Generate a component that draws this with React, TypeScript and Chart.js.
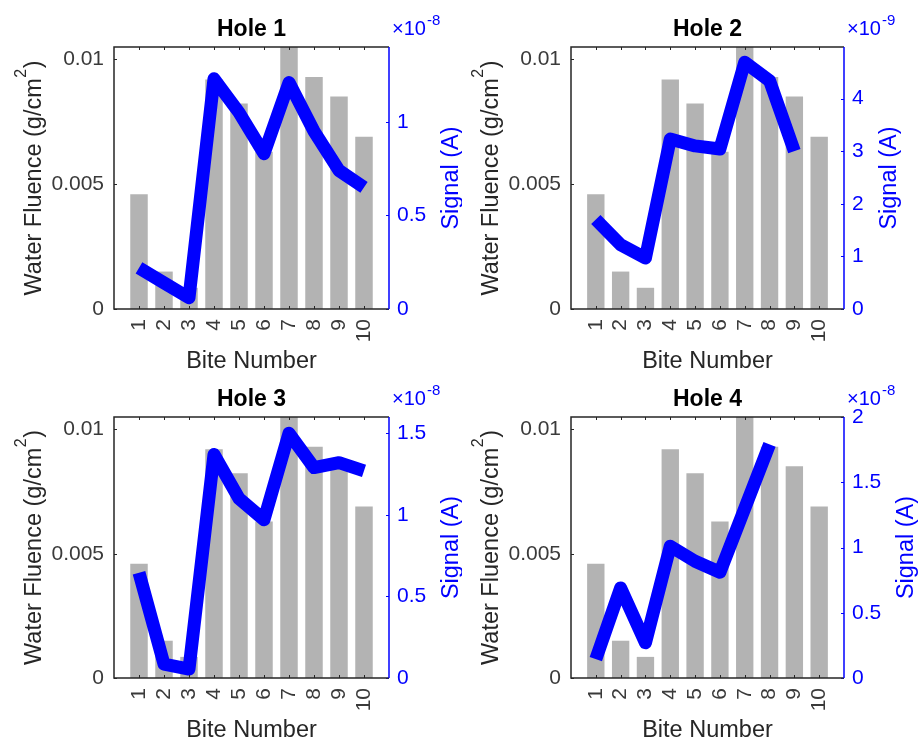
import React, { useEffect, useRef } from "react";
import { Chart, registerables } from "chart.js";

Chart.register(...registerables);

// ---------- data ----------
const biteNumbers = [1, 2, 3, 4, 5, 6, 7, 8, 9, 10];
const waterFluence = [0.0046, 0.0015, 0.00085, 0.0092, 0.00824, 0.0063, 0.011, 0.0093, 0.00852, 0.0069];
const holeTitles = ["Hole 1", "Hole 2", "Hole 3", "Hole 4"];
// signal values in units of 10^exponent A
const signalHole1 = [0.22, 0.14, 0.06, 1.23, 1.05, 0.83, 1.21, 0.95, 0.74, 0.65];
const signalHole2 = [1.7, 1.22, 0.97, 3.23, 3.1, 3.04, 4.69, 4.34, 3.0, null];
const signalHole3 = [0.645, 0.085, 0.055, 1.37, 1.1, 0.97, 1.5, 1.29, 1.32, 1.27];
const signalHole4 = [0.145, 0.69, 0.27, 1.01, 0.895, 0.81, 1.3, 1.79, null, null];
const signalExponents = [-8, -9, -8, -8];
const signalMax = [1.4, 4.98, 1.6, 2];
const signalTicks1 = [0, 0.5, 1];
const signalTicks2 = [0, 1, 2, 3, 4];
const signalTicks3 = [0, 0.5, 1, 1.5];
const signalTicks4 = [0, 0.5, 1, 1.5, 2];
const fluenceTicks = [0, 0.005, 0.01];
const fluenceMax = 0.0105;
const xRange = [0, 11];

const signals = [signalHole1, signalHole2, signalHole3, signalHole4];
const signalTicks = [signalTicks1, signalTicks2, signalTicks3, signalTicks4];

// ---------- style ----------
const FONT = "'Liberation Sans', Arial, Helvetica, sans-serif";
const DARK = "#262626";
const TICKC = "#3a3a3a";
const BLUE = "#0000ff";
const BAR = "#b3b3b3";

const PAGE_W = 924;
const PAGE_H = 745;
const CW = 462;

function panelGeom(i: number) {
  const col = i % 2;
  const row = Math.floor(i / 2);
  const top = row === 0 ? 0 : 372;
  const h = row === 0 ? 372 : PAGE_H - 372;
  const area =
    col === 0
      ? { left: 114, right: 389 }
      : { left: 109, right: 382 };
  const t = row === 0 ? 47 : 45;
  const b = row === 0 ? 309 : 306;
  return { x: col * CW, y: top, w: CW, h, ...area, top: t, bottom: b };
}

const decorPlugin = {
  id: "matlabDecor",
  afterDatasetsDraw(chart: any) {
    const { ctx, chartArea: a } = chart;
    const xs = chart.scales.x;
    const ys = chart.scales.y;
    const y1 = chart.scales.y1;
    ctx.save();
    ctx.lineWidth = 1;
    ctx.strokeStyle = DARK;
    ctx.beginPath();
    xs.ticks.forEach((t: any) => {
      const px = Math.round(xs.getPixelForValue(t.value)) + 0.5;
      ctx.moveTo(px, a.bottom);
      ctx.lineTo(px, a.bottom - 3);
      ctx.moveTo(px, a.top);
      ctx.lineTo(px, a.top + 3);
    });
    ys.ticks.forEach((t: any) => {
      const py = Math.round(ys.getPixelForValue(t.value)) + 0.5;
      ctx.moveTo(a.left, py);
      ctx.lineTo(a.left + 3, py);
    });
    ctx.stroke();
    ctx.strokeStyle = BLUE;
    ctx.beginPath();
    y1.ticks.forEach((t: any) => {
      const py = Math.round(y1.getPixelForValue(t.value)) + 0.5;
      ctx.moveTo(a.right, py);
      ctx.lineTo(a.right - 3, py);
    });
    ctx.stroke();
    // box
    ctx.lineWidth = 1.5;
    ctx.strokeStyle = DARK;
    ctx.beginPath();
    ctx.moveTo(a.right, a.top);
    ctx.lineTo(a.left, a.top);
    ctx.lineTo(a.left, a.bottom);
    ctx.lineTo(a.right, a.bottom);
    ctx.stroke();
    ctx.strokeStyle = BLUE;
    ctx.beginPath();
    ctx.moveTo(a.right, a.top);
    ctx.lineTo(a.right, a.bottom);
    ctx.stroke();
    ctx.restore();
  },
  afterDraw(chart: any, _args: any, opts: any) {
    const { ctx, chartArea: a } = chart;
    const cx = (a.left + a.right) / 2;
    const cy = (a.top + a.bottom) / 2;
    ctx.save();
    ctx.textBaseline = "alphabetic";
    // title
    ctx.fillStyle = "#000";
    ctx.textAlign = "center";
    ctx.font = `bold 23px ${FONT}`;
    ctx.fillText(opts.title, cx, a.top - 11);
    // x label
    ctx.fillStyle = DARK;
    ctx.font = `23.5px ${FONT}`;
    ctx.fillText("Bite Number", cx, a.bottom + 59);
    // left y label with superscript
    ctx.save();
    ctx.translate(a.left - 73, cy);
    ctx.rotate(-Math.PI / 2);
    const mainTxt = "Water Fluence (g/cm";
    const supTxt = "2";
    const tailTxt = ")";
    const mainFont = `23.5px ${FONT}`;
    const supFont = `16px ${FONT}`;
    ctx.font = mainFont;
    const wMain = ctx.measureText(mainTxt).width;
    const wTail = ctx.measureText(tailTxt).width;
    ctx.font = supFont;
    const wSup = ctx.measureText(supTxt).width;
    const total = wMain + wSup + wTail + 1;
    let sx = -total / 2;
    ctx.textAlign = "left";
    ctx.font = mainFont;
    ctx.fillText(mainTxt, sx, 0);
    sx += wMain;
    ctx.font = supFont;
    ctx.fillText(supTxt, sx + 0.5, -15);
    sx += wSup + 1;
    ctx.font = mainFont;
    ctx.fillText(tailTxt, sx, 0);
    ctx.restore();
    // right y label
    ctx.font = `21px ${FONT}`;
    let maxW = 0;
    chart.scales.y1.ticks.forEach((t: any) => {
      maxW = Math.max(maxW, ctx.measureText(String(t.label)).width);
    });
    ctx.save();
    ctx.translate(a.right + maxW + 40, cy);
    ctx.rotate(-Math.PI / 2);
    ctx.textAlign = "center";
    ctx.fillStyle = BLUE;
    ctx.font = `23.5px ${FONT}`;
    ctx.fillText("Signal (A)", 0, 0);
    ctx.restore();
    // exponent
    ctx.fillStyle = BLUE;
    ctx.textAlign = "left";
    ctx.font = `20px ${FONT}`;
    const base = "\u00d710";
    ctx.fillText(base, a.right + 3, a.top - 12);
    const wb = ctx.measureText(base).width;
    ctx.font = `15px ${FONT}`;
    ctx.fillText(String(opts.exponent), a.right + 3 + wb + 1, a.top - 22);
    ctx.restore();
  },
};

function Panel({ index }: { index: number }) {
  const ref = useRef<HTMLCanvasElement | null>(null);
  const g = panelGeom(index);

  useEffect(() => {
    if (!ref.current) return;
    const tickFont = { family: FONT, size: 21 };
    const chart = new Chart(ref.current, {
      type: "bar",
      data: {
        labels: biteNumbers,
        datasets: [
          {
            type: "line",
            label: "Signal",
            data: signals[index],
            yAxisID: "y1",
            xAxisID: "x",
            borderColor: BLUE,
            backgroundColor: BLUE,
            borderWidth: 13,
            borderJoinStyle: "round",
            borderCapStyle: "butt",
            pointRadius: 0,
            tension: 0,
            spanGaps: false,
            order: 0,
          } as any,
          {
            type: "bar",
            label: "Water Fluence",
            data: waterFluence,
            yAxisID: "y",
            xAxisID: "x",
            backgroundColor: BAR,
            borderWidth: 0,
            barPercentage: 0.7,
            categoryPercentage: 1,
            order: 1,
          } as any,
        ],
      },
      options: {
        responsive: false,
        animation: false,
        events: [],
        layout: { padding: { top: g.top, left: 0, right: 0, bottom: 0 } },
        plugins: {
          legend: { display: false },
          title: { display: false },
          tooltip: { enabled: false },
          matlabDecor: { title: holeTitles[index], exponent: signalExponents[index] },
        } as any,
        scales: {
          x: {
            type: "linear",
            min: xRange[0],
            max: xRange[1],
            offset: false,
            grid: { display: false, drawTicks: false },
            border: { display: false },
            ticks: {
              font: tickFont,
              color: TICKC,
              padding: 10,
              minRotation: 90,
              maxRotation: 90,
              autoSkip: false,
              callback: (v: any) => String(v),
            },
            afterBuildTicks: (s: any) => {
              s.ticks = biteNumbers.map((v) => ({ value: v }));
            },
            afterFit: (s: any) => {
              s.height = g.h - g.bottom;
            },
          },
          y: {
            type: "linear",
            position: "left",
            min: 0,
            max: fluenceMax,
            grid: { display: false, drawTicks: false },
            border: { display: false },
            ticks: {
              font: tickFont,
              color: TICKC,
              padding: 10,
              callback: (v: any) => String(v),
            },
            afterBuildTicks: (s: any) => {
              s.ticks = fluenceTicks.map((v) => ({ value: v }));
            },
            afterFit: (s: any) => {
              s.width = g.left;
            },
          },
          y1: {
            type: "linear",
            position: "right",
            min: 0,
            max: signalMax[index],
            grid: { display: false, drawTicks: false },
            border: { display: false },
            ticks: {
              font: tickFont,
              color: BLUE,
              padding: 8,
              callback: (v: any) => String(v),
            },
            afterBuildTicks: (s: any) => {
              s.ticks = signalTicks[index].map((v) => ({ value: v }));
            },
            afterFit: (s: any) => {
              s.width = g.w - g.right;
            },
          },
        } as any,
      },
      plugins: [decorPlugin as any],
    } as any);
    return () => chart.destroy();
  }, [index]);

  return (
    <canvas
      ref={ref}
      width={g.w}
      height={g.h}
      style={{ position: "absolute", left: g.x, top: g.y, width: g.w, height: g.h }}
    />
  );
}

export default function App() {
  return (
    <div
      style={{
        position: "absolute",
        left: 0,
        top: 0,
        width: PAGE_W,
        height: PAGE_H,
        background: "#ffffff",
        overflow: "hidden",
      }}
    >
      {[0, 1, 2, 3].map((i) => (
        <Panel key={i} index={i} />
      ))}
    </div>
  );
}
